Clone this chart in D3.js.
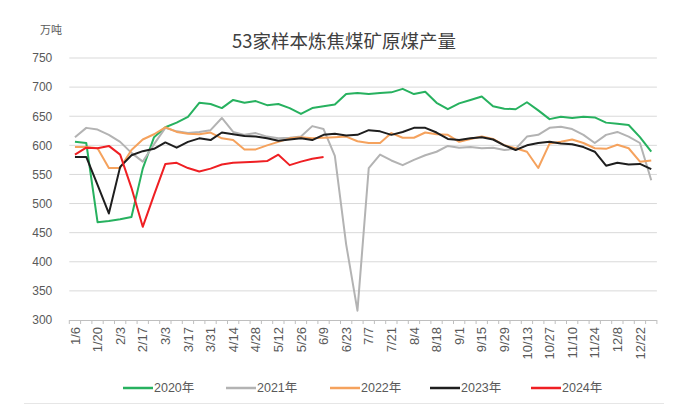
<!DOCTYPE html>
<html>
<head>
<meta charset="utf-8">
<script src="https://cdn.jsdelivr.net/npm/d3@7"></script>
<style>
  html, body { margin: 0; padding: 0; background: #fff; }
  svg { display: block; font-family: "Liberation Sans", "Noto Sans CJK SC", sans-serif; }
</style>
</head>
<body>
<div id="chart"></div>
<script>
// weekly categories (every other one labelled on the axis)
const weeks = ["1/6","1/13","1/20","1/27","2/3","2/10","2/17","2/24","3/3","3/10","3/17","3/24","3/31",
  "4/7","4/14","4/21","4/28","5/5","5/12","5/19","5/26","6/2","6/9","6/16","6/23","6/30","7/7","7/14",
  "7/21","7/28","8/4","8/11","8/18","8/25","9/1","9/8","9/15","9/22","9/29","10/6","10/13","10/20",
  "10/27","11/3","11/10","11/17","11/24","12/1","12/8","12/15","12/22","12/29"];

const yTicks = [300, 350, 400, 450, 500, 550, 600, 650, 700, 750];

const y2020 = [606,604,468,470,473,477,560,614,631,639,649,673,671,664,678,673,676,669,671,664,
  654,664,667,670,688,690,688,690,691,697,688,692,673,662,672,678,684,667,663,662,
  674,660,645,649,647,649,648,639,637,635,614,589];
const y2021 = [614,630,627,618,606,587,572,602,630,624,621,623,626,647,623,618,621,615,612,613,
  615,633,628,582,430,316,561,584,574,566,575,583,589,599,596,597,595,596,592,594,
  615,618,630,632,628,618,604,618,623,615,604,540];
const y2022 = [597,597,595,561,561,592,610,619,631,623,620,619,622,612,609,593,593,600,606,612,
  614,612,613,614,615,607,604,604,621,613,613,622,619,618,606,611,615,611,600,595,
  589,561,603,606,610,604,595,594,601,595,572,574];
const y2023 = [580,580,532,483,563,583,590,594,605,596,606,612,609,622,619,616,615,612,608,610,
  612,609,618,620,617,618,626,624,618,623,630,630,622,611,609,612,614,610,600,592,
  600,604,606,603,602,597,589,565,570,567,568,559];
const y2024 = [584,596,595,599,584,527,460,515,568,570,561,555,560,567,570,571,572,573,584,566,
  572,577,580];

const seriesNames = ["2020年", "2021年", "2022年", "2023年", "2024年"];
const seriesValues = [y2020, y2021, y2022, y2023, y2024];
const seriesColors = ["#27b15f", "#b3b3b3", "#f5a25d", "#1e1e1e", "#ef1f23"];

const W = 675, H = 407;
const svg = d3.select("#chart").append("svg")
  .attr("width", W).attr("height", H)
  .attr("viewBox", [0, 0, W, H]);

svg.append("rect").attr("width", W).attr("height", H).attr("fill", "#fff");

const plotLeft = 69.3, plotRight = 656.9, plotTop = 58, plotBottom = 320;

const x = d3.scaleBand().domain(weeks).range([plotLeft, plotRight]).paddingInner(0).paddingOuter(0);
const cx = d => x(d) + x.bandwidth() / 2;
const y = d3.scaleLinear().domain([300, 750]).range([plotBottom, plotTop]);

// gridlines
svg.append("g")
  .selectAll("line")
  .data(yTicks.slice(1))
  .join("line")
  .attr("x1", plotLeft).attr("x2", plotRight)
  .attr("y1", d => y(d)).attr("y2", d => y(d))
  .attr("stroke", "#d9d9d9").attr("stroke-width", 1);

// y axis labels
const yAxis = d3.axisLeft(y).tickValues(yTicks).tickSize(0).tickPadding(17);
svg.append("g")
  .attr("transform", `translate(${plotLeft},0)`)
  .call(yAxis)
  .call(g => g.select(".domain").remove())
  .call(g => g.selectAll("text")
    .attr("fill", "#595959")
    .attr("font-size", 12)
    .attr("font-family", "Liberation Sans, sans-serif"));

// x axis: ticks at week boundaries, every other label
const xAxis = d3.axisBottom(x)
  .tickSize(0)
  .tickFormat((d, i) => i % 2 === 0 ? d : "");
const gx = svg.append("g")
  .attr("transform", `translate(0,${plotBottom})`)
  .call(xAxis);
gx.select(".domain").attr("stroke", "#bfbfbf").attr("d", `M${plotLeft},0.5H${plotRight}`);
gx.selectAll("text")
  .attr("fill", "#595959")
  .attr("font-size", 13)
  .attr("font-family", "Liberation Sans, sans-serif")
  .attr("text-anchor", "end")
  .attr("transform", "rotate(-90)")
  .attr("x", -7)
  .attr("y", 0)
  .attr("dy", "0.35em");

gx.append("g")
  .selectAll("line")
  .data(weeks.concat([null]))
  .join("line")
  .attr("x1", (d, i) => i < weeks.length ? x(d) : plotRight)
  .attr("x2", (d, i) => i < weeks.length ? x(d) : plotRight)
  .attr("y1", 0).attr("y2", 4)
  .attr("stroke", "#bfbfbf");

// lines
const line = d3.line()
  .x((d, i) => cx(weeks[i]))
  .y(d => y(d));

svg.append("g")
  .selectAll("path")
  .data(seriesValues)
  .join("path")
  .attr("d", d => line(d))
  .attr("fill", "none")
  .attr("stroke", (d, i) => seriesColors[i])
  .attr("stroke-width", 2)
  .attr("stroke-linejoin", "round");

// title and unit
svg.append("text")
  .attr("x", 344).attr("y", 48)
  .attr("text-anchor", "middle")
  .attr("font-family", "Noto Sans CJK SC, sans-serif")
  .attr("font-size", 18.5)
  .attr("fill", "#404040")
  .text("53家样本炼焦煤矿原煤产量");

svg.append("text")
  .attr("x", 40).attr("y", 34)
  .attr("font-family", "Noto Sans CJK SC, sans-serif")
  .attr("font-size", 11)
  .attr("fill", "#595959")
  .text("万吨");

// legend
const legendX = [123, 226, 330, 430, 531];
const legend = svg.append("g").attr("transform", "translate(0,388)");
const items = legend.selectAll("g")
  .data(seriesNames)
  .join("g")
  .attr("transform", (d, i) => `translate(${legendX[i]},0)`);
items.append("line")
  .attr("x1", 0).attr("x2", 30)
  .attr("stroke", (d, i) => seriesColors[i])
  .attr("stroke-width", 2.5);
items.append("text")
  .attr("x", 31).attr("dy", "0.35em")
  .attr("font-size", 12.5)
  .attr("fill", "#595959")
  .attr("font-family", "Liberation Sans, Noto Sans CJK SC, sans-serif")
  .text(d => d);

svg.append("line")
  .attr("x1", 24).attr("x2", 664)
  .attr("y1", 403.5).attr("y2", 403.5)
  .attr("stroke", "#e6e6e6");
</script>
</body>
</html>
